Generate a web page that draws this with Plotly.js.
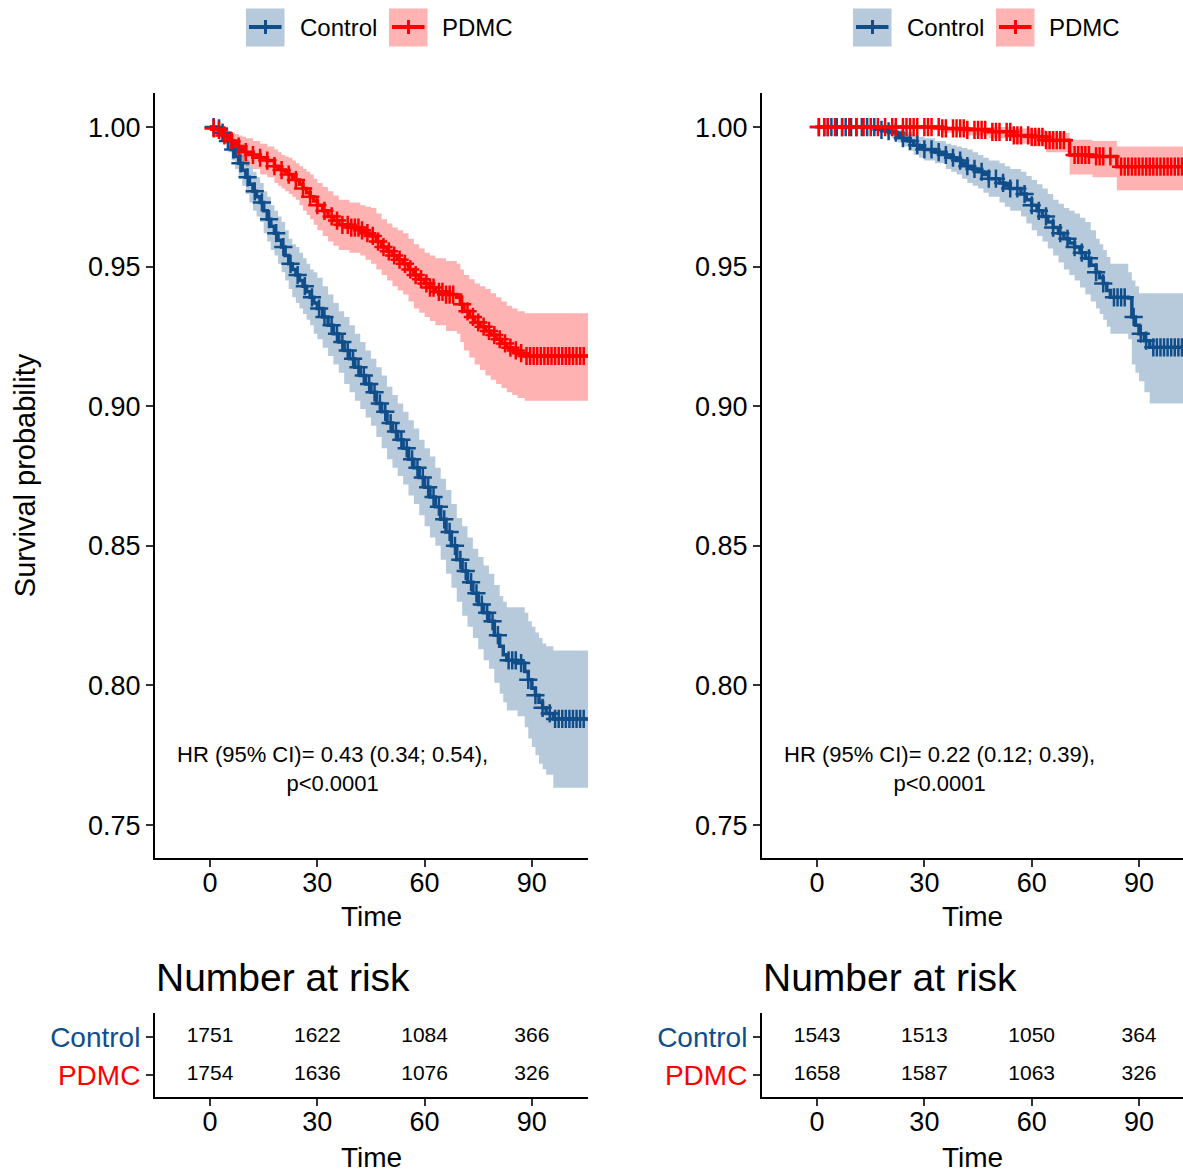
<!DOCTYPE html>
<html><head><meta charset="utf-8">
<script src="https://cdn.plot.ly/plotly-3.0.1.min.js"></script>
<style>html,body{margin:0;padding:0;background:#fff;overflow:hidden}</style>
</head><body><div id="chart" style="width:1183px;height:1173px"></div>
<script>
// ---------------- DATA ----------------
const groups = ['Control', 'PDMC'];
const groupColors = ['#104E8B', '#FF0000'];
const bandColors = ['rgba(16,78,139,0.3)', 'rgba(255,0,0,0.3)'];
const legendBoxColors = ['#B7CADC', '#FFB3B3'];

// Panel A (left)
const aCtrlTime  = [0,1,2,3,4,5,6,7,8,9,10,11,12,13,14,15,16,17,18,19,20,21,22,23,24,25,26,27,28,29,30,31.5,33,34.5,36,37.5,39,40.5,42,43.5,45,46.5,48,49.5,51,52.5,54,55.5,57,58.5,60,61.5,63,64.5,66,67.5,69,70.5,72,73.5,75,76.5,78,79.5,81,82,83,86,88,89,90,91,92,93,94,96,105.7];
const aCtrlSurv  = [1,1,0.9995,0.998,0.997,0.995,0.992,0.9895,0.987,0.9845,0.982,0.9795,0.977,0.975,0.973,0.970,0.967,0.9645,0.962,0.9595,0.957,0.954,0.951,0.949,0.947,0.945,0.943,0.941,0.939,0.937,0.935,0.932,0.929,0.926,0.923,0.920,0.917,0.914,0.911,0.908,0.905,0.901,0.898,0.894,0.891,0.888,0.885,0.881,0.878,0.8745,0.871,0.8675,0.864,0.8595,0.855,0.850,0.845,0.841,0.837,0.833,0.829,0.826,0.823,0.818,0.814,0.811,0.809,0.808,0.805,0.802,0.799,0.7965,0.794,0.792,0.790,0.788,0.788];
const aCtrlLower = [1,1,0.998,0.996,0.994,0.991,0.988,0.985,0.982,0.979,0.976,0.973,0.970,0.968,0.966,0.962,0.959,0.956,0.954,0.951,0.948,0.945,0.942,0.939,0.937,0.935,0.933,0.931,0.929,0.926,0.924,0.921,0.918,0.915,0.912,0.908,0.905,0.902,0.899,0.896,0.893,0.889,0.885,0.881,0.878,0.875,0.872,0.868,0.865,0.861,0.857,0.853,0.850,0.845,0.840,0.835,0.830,0.825,0.821,0.817,0.813,0.809,0.806,0.801,0.797,0.794,0.791,0.789,0.785,0.781,0.778,0.775,0.772,0.770,0.768,0.7634,0.7634];
const aCtrlUpper = [1,1,1,1,0.9995,0.998,0.996,0.994,0.992,0.990,0.988,0.986,0.984,0.982,0.980,0.977,0.975,0.972,0.970,0.968,0.966,0.963,0.960,0.958,0.957,0.955,0.953,0.951,0.949,0.948,0.946,0.943,0.940,0.937,0.934,0.932,0.929,0.926,0.923,0.920,0.917,0.914,0.911,0.907,0.904,0.901,0.898,0.895,0.892,0.888,0.885,0.882,0.878,0.874,0.870,0.865,0.860,0.857,0.853,0.849,0.846,0.843,0.840,0.836,0.832,0.830,0.828,0.828,0.826,0.823,0.821,0.819,0.817,0.815,0.814,0.8125,0.8125];
const aCtrlCensor = [1,2.5,3.5,5,6.5,8.5,10.5,12.5,14.5,16.5,18.5,20.5,22.5,24.5,26.5,28.5,30.5,32,34,35.5,37,38.5,40,41.5,43,44.5,46,47.5,49,50.5,52,53.5,55,56.5,58,59.5,61,62.5,64,65.5,67,68.5,70,71.5,73,74.5,76,77.5,79,80.5,83.5,84.5,85.5,87,89,91,93,95,96.5,97.5,98.5,99.5,100.5,101.5,102.5,103.5,104.5];

const aPdmcTime  = [0,1,2,3,4,5,6,7,8,9,10,12,14,16,18,19,20,21,22,23,24,25,26,27,28,29,30,31.5,33,34.5,36,39,42,43.5,45,46.5,48,49.5,51,52.5,54,55.5,57,58.5,60,61.5,63,66,69,70,71,72.5,74,75.5,77,78.5,80,81.5,83,84.5,86,88,105.7];
const aPdmcSurv  = [1,0.9995,0.999,0.998,0.997,0.996,0.995,0.994,0.993,0.992,0.991,0.990,0.989,0.988,0.986,0.985,0.9846,0.984,0.983,0.982,0.981,0.9795,0.978,0.9765,0.975,0.9735,0.972,0.970,0.968,0.9665,0.965,0.964,0.963,0.962,0.961,0.959,0.957,0.9555,0.954,0.9525,0.951,0.949,0.947,0.9455,0.944,0.9425,0.941,0.940,0.939,0.9365,0.934,0.932,0.930,0.9285,0.927,0.9255,0.924,0.9225,0.921,0.920,0.919,0.918,0.918];
const aPdmcLower = [1,0.999,0.997,0.9955,0.994,0.9925,0.991,0.990,0.989,0.9875,0.986,0.985,0.983,0.982,0.980,0.979,0.978,0.977,0.976,0.975,0.974,0.972,0.970,0.9685,0.967,0.965,0.963,0.961,0.959,0.9575,0.956,0.955,0.954,0.9525,0.951,0.949,0.947,0.945,0.943,0.9415,0.940,0.9375,0.935,0.9335,0.932,0.9305,0.929,0.927,0.926,0.923,0.920,0.9175,0.915,0.913,0.911,0.9095,0.908,0.9065,0.905,0.904,0.903,0.902,0.902];
const aPdmcUpper = [1,1,1,1,0.999,0.9985,0.998,0.9975,0.997,0.9965,0.996,0.995,0.994,0.993,0.992,0.991,0.990,0.9895,0.989,0.988,0.987,0.986,0.985,0.984,0.983,0.9815,0.980,0.9785,0.977,0.9755,0.974,0.973,0.972,0.9715,0.971,0.969,0.967,0.9655,0.964,0.963,0.962,0.960,0.958,0.9565,0.955,0.954,0.953,0.952,0.951,0.949,0.947,0.9455,0.944,0.943,0.942,0.9405,0.939,0.9375,0.936,0.935,0.934,0.9333,0.9333];
const aPdmcCensor = [1,2.5,4,6,8,10,12,14,16,18,20,22,24,26,28,30,32,34,35.5,37,38.5,39.5,40.5,41.5,42.5,44,45.5,47,48.5,50,51.5,53,54.5,56,57.5,59,60.5,61.5,62.5,64,65,66,67,68,70.5,72,73.5,75,76.5,78,79.5,81,82.5,84,85.5,87,88.5,89.5,90.5,91.5,92.5,93.5,94.5,95.5,96.5,97.5,98.5,99.5,100.5,101.5,102.5,103.5,104.5];

// Panel B (right)
const bCtrlTime  = [0,15,16.5,18,19.5,21,22.5,24,25.5,27,28.5,30,33,36,37.5,39,40.5,42,43.5,45,46.5,48,51,52.5,54,57,58.5,60,61.5,63,64.5,66,67.5,69,70.5,72,73.5,75,76.5,78,79,80,81,82,87,88,89,90,91.5,93,105.7];
const bCtrlSurv  = [1,1,0.9995,0.999,0.9985,0.998,0.997,0.996,0.995,0.9935,0.9928,0.992,0.991,0.990,0.989,0.988,0.987,0.986,0.985,0.984,0.983,0.9815,0.980,0.979,0.978,0.976,0.974,0.972,0.970,0.968,0.966,0.964,0.962,0.960,0.9585,0.957,0.955,0.953,0.9505,0.948,0.946,0.944,0.9415,0.939,0.9388,0.932,0.929,0.926,0.9235,0.9211,0.9211];
const bCtrlLower = [1,1,0.999,0.998,0.997,0.996,0.9945,0.993,0.9915,0.990,0.989,0.988,0.987,0.985,0.984,0.983,0.9815,0.980,0.979,0.978,0.9765,0.975,0.973,0.9715,0.970,0.968,0.9655,0.963,0.961,0.959,0.9565,0.954,0.9515,0.949,0.947,0.945,0.9425,0.940,0.9375,0.935,0.933,0.931,0.9285,0.926,0.924,0.915,0.912,0.909,0.905,0.901,0.901];
const bCtrlUpper = [1,1,1,1,1,0.9995,0.999,0.998,0.9975,0.997,0.9965,0.996,0.995,0.994,0.9935,0.993,0.9925,0.992,0.991,0.990,0.989,0.988,0.987,0.986,0.985,0.984,0.9825,0.981,0.9795,0.978,0.976,0.974,0.9725,0.971,0.970,0.969,0.9675,0.966,0.963,0.960,0.958,0.956,0.9535,0.951,0.948,0.945,0.943,0.9405,0.9405,0.9405,0.9405];
const bCtrlCensor = [0.5,2,3,4,5.5,7,8,9.5,11,12.5,14,16,18,20,22,24,26,28,30,32,34,36,38,40,42,44,46,48,50,52,54,56,58,60,62,64,66,68,70,72,74,76,78,80,83,84,85,86,88.5,90.5,92,94,95,96,97,98,99,100,101,102,103,104];

const bPdmcTime  = [0,35,42,48,55,60,64,70.6,77,83.8,105.7];
const bPdmcSurv  = [1,0.9995,0.999,0.9983,0.997,0.9965,0.9953,0.990,0.9895,0.9858,0.9858];
const bPdmcLower = [1,0.998,0.997,0.996,0.994,0.993,0.991,0.983,0.982,0.9774,0.9774];
const bPdmcUpper = [1,1,1,1,0.9995,0.999,0.998,0.9955,0.995,0.993,0.993];
const bPdmcCensor = [0.5,2,3,5,7,9,11,13,15,17,19,21,22,24,25,26,27,28,30,31,32,34,35,36,38,39,40,41,42,44,45,46,47,49,50,51,53,54,55,56,57,59,60,61,62,63,64,65,66,67,68,69,72,73,74,75,76,78,79,80,82,85,86,87,88,89,90,91,92,93,94,95,96,97,98,99,100,101,102,103,104];

// Risk table
const riskTimes = [0, 30, 60, 90];
const aRiskCtrl = [1751, 1622, 1084, 366];
const aRiskPdmc = [1754, 1636, 1076, 326];
const bRiskCtrl = [1543, 1513, 1050, 364];
const bRiskPdmc = [1658, 1587, 1063, 326];

const hrTextA = 'HR (95% CI)= 0.43 (0.34; 0.54),<br>p&lt;0.0001';
const hrTextB = 'HR (95% CI)= 0.22 (0.12; 0.39),<br>p&lt;0.0001';
const yTicks = [0.75, 0.80, 0.85, 0.90, 0.95, 1.00];
const xTicks = [0, 30, 60, 90];

// ---------------- BUILD ----------------
const W = 1183, H = 1173;
const px = v => v / W;
const py = v => 1 - v / H;
const FONT = 'Liberation Sans, Arial, Helvetica, sans-serif';

function stepAt(t, times, vals) {
  let v = vals[0];
  for (let i = 0; i < times.length; i++) { if (times[i] <= t) v = vals[i]; }
  return v;
}

const traces = [];
function addCurves(xa, ya, curves) {
  curves.forEach((c, g) => {
    traces.push({type:'scatter', mode:'lines', x:c.time, y:c.lower, xaxis:xa, yaxis:ya,
      line:{width:0, shape:'hv', color:bandColors[g]}, showlegend:false, hoverinfo:'skip'});
    traces.push({type:'scatter', mode:'lines', x:c.time, y:c.upper, xaxis:xa, yaxis:ya,
      fill:'tonexty', fillcolor:bandColors[g],
      line:{width:0, shape:'hv', color:bandColors[g]}, showlegend:false, hoverinfo:'skip'});
  });
  curves.forEach((c, g) => {
    traces.push({type:'scatter', mode:'lines', name:groups[g], x:c.time, y:c.surv, xaxis:xa, yaxis:ya,
      line:{width:3.5, shape:'hv', color:groupColors[g]}, showlegend:false});
    traces.push({type:'scatter', mode:'markers', name:groups[g] + ' censored', x:c.censor,
      y:c.censor.map(t => stepAt(t, c.time, c.surv)), xaxis:xa, yaxis:ya,
      marker:{symbol:'cross-thin', size:13, color:groupColors[g], line:{width:2.5, color:groupColors[g]}},
      showlegend:false});
  });
}
addCurves('x', 'y', [
  {time:aCtrlTime, surv:aCtrlSurv, lower:aCtrlLower, upper:aCtrlUpper, censor:aCtrlCensor},
  {time:aPdmcTime, surv:aPdmcSurv, lower:aPdmcLower, upper:aPdmcUpper, censor:aPdmcCensor}
]);
addCurves('x2', 'y2', [
  {time:bCtrlTime, surv:bCtrlSurv, lower:bCtrlLower, upper:bCtrlUpper, censor:bCtrlCensor},
  {time:bPdmcTime, surv:bPdmcSurv, lower:bPdmcLower, upper:bPdmcUpper, censor:bPdmcCensor}
]);

function addRisk(xa, ya, rows) {
  rows.forEach((r, g) => {
    traces.push({type:'scatter', mode:'text', x:riskTimes, y:riskTimes.map(() => groups[g]),
      text:r.map(String), textposition:'middle center', xaxis:xa, yaxis:ya,
      textfont:{family:FONT, size:21, color:'#000'}, showlegend:false, hoverinfo:'skip'});
  });
}
addRisk('x3', 'y3', [aRiskCtrl, aRiskPdmc]);
addRisk('x4', 'y4', [bRiskCtrl, bRiskPdmc]);

const axisCommon = {showline:true, linecolor:'#000', linewidth:2, ticks:'outside', ticklen:7,
  tickwidth:2, tickcolor:'#333', showgrid:false, zeroline:false, automargin:false,
  tickfont:{family:FONT, size:27, color:'#000'}};

const xMainA = Object.assign({}, axisCommon, {domain:[px(155), px(588)], range:[-15.4, 105.7],
  anchor:'y', tickmode:'array', tickvals:xTicks, ticklabelstandoff:-7,
  title:{text:'Time', font:{family:FONT, size:28, color:'#000'}, standoff:9}});
const yMainA = Object.assign({}, axisCommon, {domain:[py(858), py(93)], range:[0.7382, 1.0122],
  anchor:'x', tickmode:'array', tickvals:yTicks, tickformat:'.2f',
  title:{text:'Survival probability', font:{family:FONT, size:29, color:'#000'}, standoff:44}});
const xMainB = Object.assign({}, xMainA, {domain:[px(762), 1], range:[-15.4, 102.3], anchor:'y2'});
const yMainB = Object.assign({}, yMainA, {anchor:'x2', title:{text:''}});

const riskTickText = ['<span style="color:' + groupColors[0] + '">' + groups[0] + '</span>',
                      '<span style="color:' + groupColors[1] + '">' + groups[1] + '</span>'];
const xRiskA = Object.assign({}, xMainA, {anchor:'y3',
  title:{text:'Time', font:{family:FONT, size:28, color:'#000'}, standoff:12}});
const yRiskA = Object.assign({}, axisCommon, {domain:[py(1097), py(1013)], anchor:'x3',
  type:'category', categoryorder:'array', categoryarray:[groups[1], groups[0]],
  range:[-0.58, 1.63], tickmode:'array', tickvals:groups, ticktext:riskTickText,
  tickfont:{family:FONT, size:28}});
const xRiskB = Object.assign({}, xRiskA, {domain:[px(762), 1], range:[-15.4, 102.3], anchor:'y4'});
const yRiskB = Object.assign({}, yRiskA, {anchor:'x4'});

const annotations = [
  {xref:'x', yref:'y', x:34.2, y:0.7701, text:hrTextA, showarrow:false, align:'center',
   font:{family:FONT, size:22, color:'#000'}},
  {xref:'x2', yref:'y2', x:34.2, y:0.7701, text:hrTextB, showarrow:false, align:'center',
   font:{family:FONT, size:22, color:'#000'}},
  {xref:'paper', yref:'paper', x:px(154), y:py(977), xanchor:'left', yanchor:'middle',
   text:'Number at risk', showarrow:false, font:{family:FONT, size:39, color:'#000'}},
  {xref:'paper', yref:'paper', x:px(761), y:py(977), xanchor:'left', yanchor:'middle',
   text:'Number at risk', showarrow:false, font:{family:FONT, size:39, color:'#000'}}
];

// Manual legends (one above each panel)
const shapes = [];
const legendOffsets = [0, 607];
const boxX = [246, 389];
const textX = [298, 440];
legendOffsets.forEach(off => {
  groups.forEach((gname, g) => {
    const x0 = boxX[g] + off;
    shapes.push({type:'rect', xref:'paper', yref:'paper', x0:px(x0), x1:px(x0 + 38.5),
      y0:py(46.5), y1:py(8.5), fillcolor:legendBoxColors[g], line:{width:0}});
    shapes.push({type:'line', xref:'paper', yref:'paper', x0:px(x0 + 3), x1:px(x0 + 35.5),
      y0:py(27), y1:py(27), line:{color:groupColors[g], width:4}});
    shapes.push({type:'line', xref:'paper', yref:'paper', x0:px(x0 + 19.5), x1:px(x0 + 19.5),
      y0:py(20), y1:py(34), line:{color:groupColors[g], width:3}});
    annotations.push({xref:'paper', yref:'paper', x:px(textX[g] + off), y:py(27.5),
      xanchor:'left', yanchor:'middle', text:gname, showarrow:false,
      font:{family:FONT, size:24, color:'#000'}});
  });
});

const layout = {
  width:W, height:H, margin:{l:0, r:0, t:0, b:0},
  paper_bgcolor:'#fff', plot_bgcolor:'#fff', showlegend:false,
  font:{family:FONT, color:'#000'},
  xaxis:xMainA, yaxis:yMainA, xaxis2:xMainB, yaxis2:yMainB,
  xaxis3:xRiskA, yaxis3:yRiskA, xaxis4:xRiskB, yaxis4:yRiskB,
  annotations:annotations, shapes:shapes
};

Plotly.newPlot('chart', traces, layout, {staticPlot:true, displayModeBar:false});
</script></body></html>
